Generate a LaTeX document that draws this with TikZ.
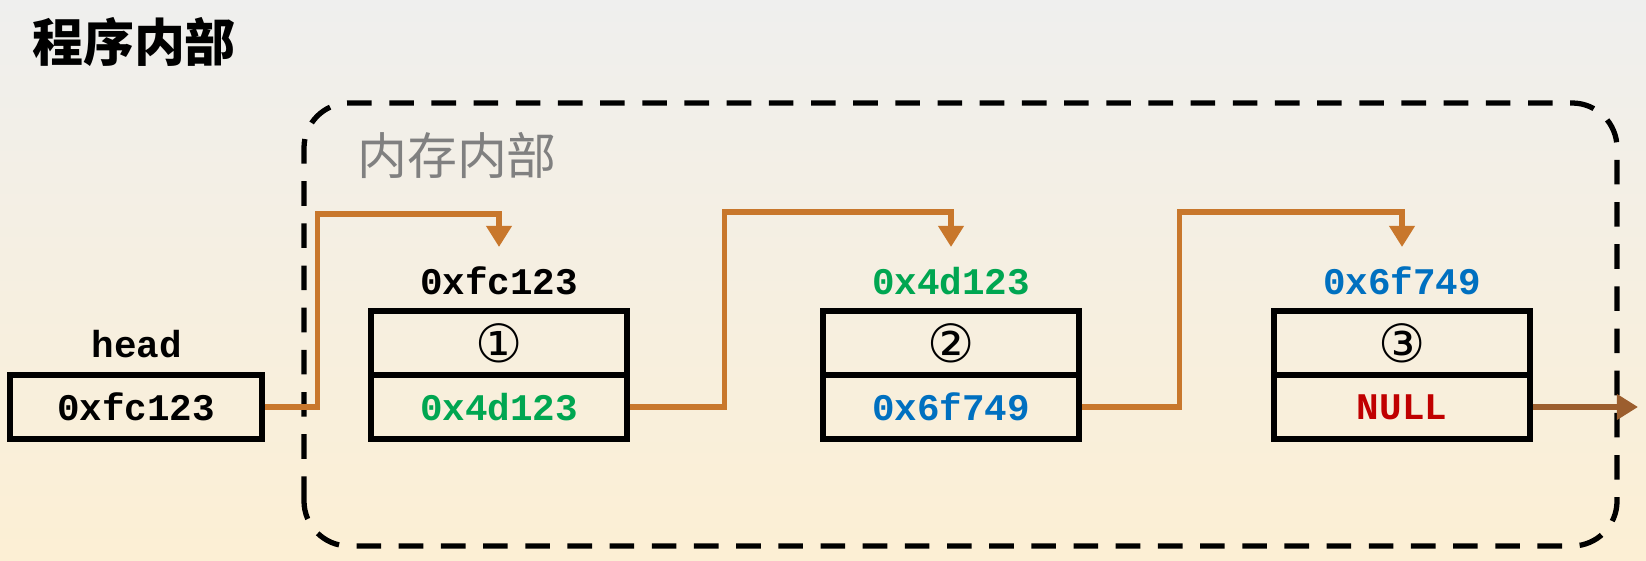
\documentclass[tikz,border=0pt]{standalone}
\usepackage{fontspec}
\setmonofont{Liberation Mono}
\newfontfamily\cjk{Noto Sans CJK SC}
\newfontfamily\circfont{DejaVu Sans}
\usetikzlibrary{arrows.meta}
\definecolor{bgtop}{HTML}{EFEFEE}
\definecolor{bgbot}{HTML}{FCEFD4}
\definecolor{linkc}{HTML}{C8772C}
\definecolor{nullc}{HTML}{9C5E2E}
\definecolor{addrg}{HTML}{00A651}
\definecolor{addrb}{HTML}{0070C0}
\definecolor{addrr}{HTML}{C00000}
\begin{document}
\begin{tikzpicture}[line cap=butt, line join=miter,
    cell/.style={draw=black, line width=1.5pt, minimum width=2.56cm, minimum height=0.64cm,
      inner sep=0pt, font=\ttfamily\bfseries\fontsize{10.7}{12}\selectfont},
    addr/.style={inner sep=1pt, font=\ttfamily\bfseries\fontsize{10.7}{12}\selectfont},
    num/.style={font=\circfont\mdseries\fontsize{15}{16}\selectfont},
    link/.style={draw=linkc, line width=1.6pt, -{Triangle[width=7pt,length=6pt]}}]
  \shade[top color=bgtop, bottom color=bgbot] (0,0) rectangle (16.46,5.6);
  \useasboundingbox (0,0) rectangle (16.46,5.6);
  \node (title) at (1.34,5.18) {\cjk\bfseries\fontsize{14.5}{16}\selectfont 程序内部};
  \draw[line width=1.5pt, dash pattern=on 7pt off 5pt, rounded corners=0.45cm] (3.04,0.14) rectangle (16.17,4.57);
  \node[text=black!50] (mem) at (4.57,4.05) {\cjk\fontsize{14.2}{16}\selectfont 内存内部};
  \node[addr] (hlab) at (1.37,2.16) {head};
  \node[cell, minimum width=2.52cm] (head) at (1.36,1.53) {0xfc123};
  \node[addr] (a1) at (4.99,2.79) {0xfc123};
  \node[cell, num] (n1a) at (4.99,2.17) {①};
  \node[cell, text=addrg] (n1b) at (4.99,1.53) {0x4d123};
  \node[addr, text=addrg] (a2) at (9.51,2.79) {0x4d123};
  \node[cell, num] (n2a) at (9.51,2.17) {②};
  \node[cell, text=addrb] (n2b) at (9.51,1.53) {0x6f749};
  \node[addr, text=addrb] (a3) at (14.02,2.79) {0x6f749};
  \node[cell, num] (n3a) at (14.02,2.17) {③};
  \node[cell, text=addrr] (n3b) at (14.02,1.53) {NULL};
  \coordinate (nullend) at (16.38,1.53);
  \draw[link] (head.east) -- ++(0.53,0) |- ([yshift=0.67cm]a1.center) -- ([yshift=0.34cm]a1.center);
  \draw[link] (n1b.east) -- ++(0.95,0) |- ([yshift=0.69cm]a2.center) -- ([yshift=0.34cm]a2.center);
  \draw[link] (n2b.east) -- ++(0.98,0) |- ([yshift=0.69cm]a3.center) -- ([yshift=0.34cm]a3.center);
  \draw[link, draw=nullc] (n3b.east) -- (nullend);
\end{tikzpicture}
\end{document}
